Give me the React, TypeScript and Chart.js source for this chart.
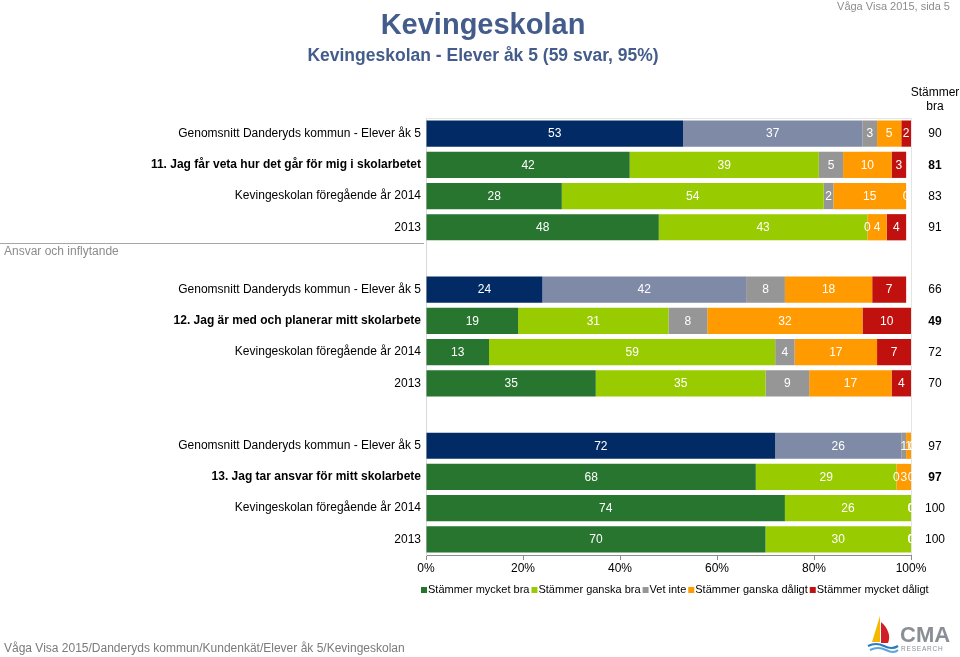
import React, { useEffect, useRef } from 'react';
import { Chart, registerables } from 'chart.js';

Chart.register(...registerables);

const FONT = "'Liberation Sans', Arial, Helvetica, sans-serif";

// ---- data ----
const categories = [
  'Genomsnitt Danderyds kommun - Elever åk 5',
  '11. Jag får veta hur det går för mig i skolarbetet',
  'Kevingeskolan föregående år 2014',
  '2013',
  '',
  'Genomsnitt Danderyds kommun - Elever åk 5',
  '12. Jag är med och planerar mitt skolarbete',
  'Kevingeskolan föregående år 2014',
  '2013',
  '',
  'Genomsnitt Danderyds kommun - Elever åk 5',
  '13. Jag tar ansvar för mitt skolarbete',
  'Kevingeskolan föregående år 2014',
  '2013',
];
const rowKinds = ['avg', 'q', 'prev', 'prev', 'gap', 'avg', 'q', 'prev', 'prev', 'gap', 'avg', 'q', 'prev', 'prev'];

const mycketBra = [53, 42, 28, 48, null, 24, 19, 13, 35, null, 72, 68, 74, 70];
const ganskaBra = [37, 39, 54, 43, null, 42, 31, 59, 35, null, 26, 29, 26, 30];
const vetInte = [3, 5, 2, 0, null, 8, 8, 4, 9, null, 1, 0, 0, 0];
const ganskaDaligt = [5, 10, 15, 4, null, 18, 32, 17, 17, null, 1, 3, 0, 0];
const mycketDaligt = [2, 3, 0, 4, null, 7, 10, 7, 4, null, 0.4, 0, 0, 0];
const stammerBra = [90, 81, 83, 91, null, 66, 49, 72, 70, null, 97, 97, 100, 100];

const seriesNames = ['Stämmer mycket bra', 'Stämmer ganska bra', 'Vet inte', 'Stämmer ganska dåligt', 'Stämmer mycket dåligt'];
const xTickLabels = ['0%', '20%', '40%', '60%', '80%', '100%'];
const sectionLabel = 'Ansvar och inflytande';
const rightHeader = ['Stämmer', 'bra'];

const COL = {
  navy: '#022b66',
  slate: '#7f8aa7',
  green: '#27752f',
  lime: '#99cc00',
  gray: '#969696',
  orange: '#ff9a00',
  red: '#c1110f',
};
const seriesColors = [COL.green, COL.lime, COL.gray, COL.orange, COL.red];
const avgColors = [COL.navy, COL.slate, COL.gray, COL.orange, COL.red];
const seriesValues = [mycketBra, ganskaBra, vetInte, ganskaDaligt, mycketDaligt];

const zeroPad = (s: any) => {
  s.paddingLeft = 0;
  s.paddingRight = 0;
  s.paddingTop = 0;
  s.paddingBottom = 0;
};

const framePlugin = {
  id: 'frame',
  beforeDatasetsDraw(chart: any) {
    const { ctx, chartArea: a } = chart;
    ctx.save();
    ctx.strokeStyle = '#e4e4e4';
    ctx.lineWidth = 1;
    ctx.beginPath();
    ctx.moveTo(a.left, a.top + 0.5);
    ctx.lineTo(a.right + 0.5, a.top + 0.5);
    ctx.lineTo(a.right + 0.5, a.bottom);
    ctx.stroke();
    ctx.restore();
  },
};

const labelPlugin = {
  id: 'barLabels',
  afterDatasetsDraw(chart: any) {
    const { ctx, chartArea: a } = chart;
    ctx.save();
    ctx.beginPath();
    ctx.rect(a.left, a.top, a.right - a.left + 2, a.bottom - a.top);
    ctx.clip();
    ctx.font = `12px ${FONT}`;
    ctx.fillStyle = '#ffffff';
    ctx.textAlign = 'center';
    ctx.textBaseline = 'middle';
    chart.data.datasets.forEach((ds: any, i: number) => {
      const meta = chart.getDatasetMeta(i);
      meta.data.forEach((bar: any, j: number) => {
        const v = ds.data[j];
        if (v === null || v === undefined) return;
        const p = bar.getProps(['x', 'base', 'y'], true);
        ctx.fillText(String(Math.round(v)), (p.x + p.base) / 2, p.y + 0.5);
      });
    });
    ctx.restore();
  },
};

const extrasPlugin = {
  id: 'extras',
  afterDraw(chart: any) {
    const { ctx, chartArea: a } = chart;
    const yScale = chart.scales.y;
    ctx.save();
    // right column
    ctx.textAlign = 'center';
    ctx.textBaseline = 'middle';
    ctx.fillStyle = '#000';
    ctx.font = `12px ${FONT}`;
    ctx.fillText(rightHeader[0], 935, 93);
    ctx.fillText(rightHeader[1], 935, 107);
    stammerBra.forEach((v, j) => {
      if (v === null) return;
      ctx.font = `${rowKinds[j] === 'q' ? 'bold ' : ''}12px ${FONT}`;
      ctx.fillText(String(v), 935, yScale.getPixelForValue(j) + 0.5);
    });
    // section separator
    const sepY = Math.round((yScale.getPixelForValue(3) + yScale.getPixelForValue(4)) / 2) + 0.5;
    ctx.strokeStyle = '#a6a6a6';
    ctx.lineWidth = 1;
    ctx.beginPath();
    ctx.moveTo(0, sepY);
    ctx.lineTo(a.left - 2, sepY);
    ctx.stroke();
    ctx.textAlign = 'left';
    ctx.fillStyle = '#8c8c8c';
    ctx.font = `12px ${FONT}`;
    ctx.fillText(sectionLabel, 4, sepY + 8);
    // legend
    ctx.font = `11px ${FONT}`;
    let x = 421;
    const ly = 590;
    seriesNames.forEach((name, i) => {
      ctx.fillStyle = seriesColors[i];
      ctx.fillRect(x, ly - 3, 6, 6);
      x += 7;
      ctx.fillStyle = '#000';
      ctx.fillText(name, x, ly);
      x += ctx.measureText(name).width + 2;
    });
    ctx.restore();
  },
};

function Logo() {
  return (
    <svg width={90} height={42} viewBox="0 0 90 42" style={{ position: 'absolute', left: 864, top: 614 }}>
      <polygon points="16,2 8,28 16,28" fill="#f5b800" />
      <path d="M17,8 C24,14 27,22 24,29 L17,29 Z" fill="#d01f26" />
      <path d="M4,32 Q12,28 20,32 T34,32" stroke="#2b7bc0" strokeWidth={2.2} fill="none" />
      <path d="M6,36 Q14,32 22,36 T34,36" stroke="#5aa6dc" strokeWidth={2} fill="none" />
      <text x={36} y={28} fontFamily={FONT} fontSize={22} fontWeight="bold" fill="#8a8f96">CMA</text>
      <text x={37} y={37} fontFamily={FONT} fontSize={6.5} fill="#8a8f96" letterSpacing={0.8}>RESEARCH</text>
    </svg>
  );
}

export default function App() {
  const ref = useRef<HTMLCanvasElement | null>(null);

  useEffect(() => {
    if (!ref.current) return;
    const datasets = seriesValues.map((vals, i) => ({
      label: seriesNames[i],
      data: vals,
      backgroundColor: categories.map((_, j) => (rowKinds[j] === 'avg' ? avgColors[i] : seriesColors[i])),
      borderWidth: 0,
      barPercentage: 0.84,
      categoryPercentage: 1,
    }));
    const chart = new Chart(ref.current, {
      type: 'bar',
      data: { labels: categories, datasets },
      options: {
        indexAxis: 'y',
        responsive: false,
        animation: false,
        layout: { padding: { top: 118, right: 49, bottom: 72, left: 0 } },
        plugins: {
          legend: { display: false },
          tooltip: { enabled: false },
          title: { display: false },
        },
        scales: {
          x: {
            stacked: true,
            min: 0,
            max: 100,
            ticks: {
              stepSize: 20,
              callback: (_v: any, i: number) => xTickLabels[i],
              color: '#000',
              font: { family: FONT, size: 12 },
              padding: 1,
              maxRotation: 0,
            },
            grid: { drawOnChartArea: false, drawTicks: true, tickLength: 5, color: '#8c8c8c' },
            border: { color: '#8c8c8c' },
            afterFit: (s: any) => {
              s.height = 30;
              zeroPad(s);
            },
          },
          y: {
            stacked: true,
            ticks: {
              autoSkip: false,
              color: '#000',
              padding: 5,
              font: (c: any) => ({ family: FONT, size: 12, weight: rowKinds[c.index] === 'q' ? 'bold' : 'normal' }),
            },
            grid: { display: false, drawTicks: false },
            border: { color: '#d9d9d9' },
            afterFit: (s: any) => {
              s.width = 426;
              zeroPad(s);
            },
          },
        },
      } as any,
      plugins: [framePlugin, labelPlugin, extrasPlugin],
    });
    return () => chart.destroy();
  }, []);

  return (
    <div style={{ position: 'absolute', left: 0, top: 0, width: 960, height: 657, background: '#fff', fontFamily: FONT, overflow: 'hidden' }}>
      <canvas ref={ref} width={960} height={657} style={{ position: 'absolute', left: 0, top: 0 }} />
      <div style={{ position: 'absolute', left: 0, top: 7, width: 966, textAlign: 'center', fontSize: 29, fontWeight: 'bold', lineHeight: '34px', color: '#445c8b' }}>
        Kevingeskolan
      </div>
      <div style={{ position: 'absolute', left: 0, top: 44, width: 966, textAlign: 'center', fontSize: 17.5, fontWeight: 'bold', lineHeight: '22px', color: '#445c8b' }}>
        Kevingeskolan - Elever åk 5 (59 svar, 95%)
      </div>
      <div style={{ position: 'absolute', right: 10, top: 0, fontSize: 11, lineHeight: '13px', color: '#8c8c8c' }}>
        Våga Visa 2015, sida 5
      </div>
      <div style={{ position: 'absolute', left: 4, top: 641, fontSize: 12, lineHeight: '14px', color: '#7a7a7a' }}>
        Våga Visa 2015/Danderyds kommun/Kundenkät/Elever åk 5/Kevingeskolan
      </div>
      <Logo />
    </div>
  );
}
